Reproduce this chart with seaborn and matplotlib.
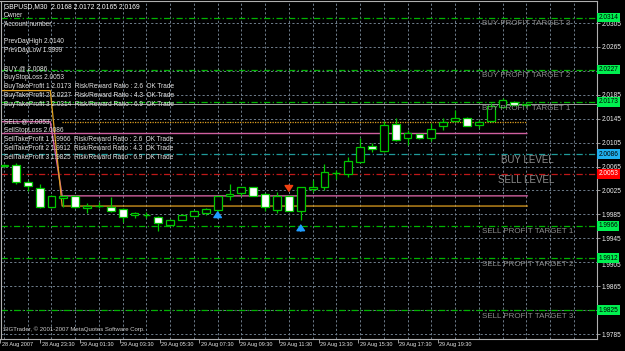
import numpy as np
import pandas as pd
import matplotlib
matplotlib.use("Agg")
import matplotlib.pyplot as plt
from matplotlib.patches import Rectangle
from matplotlib.transforms import blended_transform_factory, ScaledTranslation
import seaborn as sns

# ---------------- data ----------------
opens  = [2.0066, 2.0068, 2.0039, 2.0029, 1.9997, 2.0012, 2.0016, 1.9996, 1.9999, 1.9997,
          1.9994, 1.9984, 1.9984, 1.9981, 1.9968, 1.9976, 1.9983, 1.9988, 1.9993, 2.0015,
          2.0020, 2.0030, 2.0019, 1.9993, 2.0016, 1.9991, 2.0027, 2.0030, 2.0055, 2.0052,
          2.0073, 2.0100, 2.0091, 2.0136, 2.0112, 2.0119, 2.0112, 2.0132, 2.0142, 2.0147,
          2.0134, 2.0142, 2.0165, 2.0173, 2.0168]
highs  = [2.0070, 2.0071, 2.0043, 2.0036, 2.0017, 2.0018, 2.0017, 2.0004, 2.0006, 2.0014,
          1.9996, 1.9989, 1.9989, 1.9982, 1.9977, 1.9985, 1.9992, 1.9996, 2.0016, 2.0036,
          2.0031, 2.0031, 2.0020, 2.0023, 2.0017, 2.0031, 2.0043, 2.0069, 2.0060, 2.0081,
          2.0112, 2.0104, 2.0142, 2.0147, 2.0126, 2.0120, 2.0137, 2.0146, 2.0160, 2.0148,
          2.0143, 2.0171, 2.0180, 2.0174, 2.0172]
lows   = [2.0064, 2.0036, 2.0024, 1.9996, 1.9996, 1.9998, 1.9996, 1.9987, 1.9996, 1.9989,
          1.9972, 1.9979, 1.9979, 1.9957, 1.9966, 1.9975, 1.9982, 1.9984, 1.9991, 2.0009,
          2.0015, 2.0015, 1.9990, 1.9987, 1.9990, 1.9976, 2.0023, 2.0025, 2.0045, 2.0048,
          2.0071, 2.0089, 2.0090, 2.0107, 2.0101, 2.0111, 2.0107, 2.0126, 2.0140, 2.0132,
          2.0129, 2.0140, 2.0163, 2.0167, 2.0165]
closes = [2.0068, 2.0039, 2.0032, 1.9997, 2.0016, 2.0015, 1.9997, 1.9999, 1.9999, 1.9991,
          1.9981, 1.9987, 1.9984, 1.9971, 1.9976, 1.9984, 1.9991, 1.9994, 2.0015, 2.0019,
          2.0030, 2.0016, 1.9998, 2.0016, 1.9991, 2.0030, 2.0030, 2.0056, 2.0055, 2.0075,
          2.0098, 2.0094, 2.0134, 2.0109, 2.0121, 2.0112, 2.0128, 2.0139, 2.0147, 2.0133,
          2.0139, 2.0166, 2.0176, 2.0168, 2.0169]

levels      = [2.0314, 2.0227, 2.0173, 2.0086, 2.0053, 1.9966, 1.9912, 1.9825]
level_names = ["BUY PROFIT TARGET 3", "BUY PROFIT TARGET 2", "BUY PROFIT TARGET 1",
               "BUY LEVEL", "SELL LEVEL",
               "SELL PROFIT TARGET 1", "SELL PROFIT TARGET 2", "SELL PROFIT TARGET 3"]
level_kind  = ["target", "target", "target", "buy", "sell", "target", "target", "target"]

bid_price = 2.0169

up_arrow_bars    = [18, 25]
up_arrow_prices  = [1.9985, 1.9963]
down_arrow_bars  = [24]
down_arrow_prices = [2.0028]

# indicator polylines (bar index, price)
pink_x   = [-0.3, 3.9, 4.9, 44.1]
pink_y   = [2.0140, 2.0140, 2.0016, 2.0016]
orange_x = [-0.3, 3.9, 4.9, 44.1]
orange_y = [2.0192, 2.0192, 1.9999, 1.9999]
pink_flat_price = 2.0121
orange_flat_price = 2.0140

title_text = "GBPUSD,M30  2.0168 2.0172 2.0165 2.0169"
info_lines = ["Owner", "Account number :", "", "PrevDayHigh 2.0140", "PrevDayLow 1.9999", "",
              "BUY @ 2.0086", "BuyStopLoss 2.0053",
              "BuyTakeProfit 1 2.0173  Risk/Reward Ratio : 2.6  OK Trade",
              "BuyTakeProfit 2 2.0227  Risk/Reward Ratio : 4.3  OK Trade",
              "BuyTakeProfit 3 2.0314  Risk/Reward Ratio : 6.9  OK Trade", "",
              "SELL @ 2.0053", "SellStopLoss 2.0086",
              "SellTakeProfit 1 1.9966  Risk/Reward Ratio : 2.6  OK Trade",
              "SellTakeProfit 2 1.9912  Risk/Reward Ratio : 4.3  OK Trade",
              "SellTakeProfit 3 1.9825  Risk/Reward Ratio : 6.9  OK Trade"]

time_labels = ["28 Aug 2007", "28 Aug 23:30", "29 Aug 01:30", "29 Aug 03:30", "29 Aug 05:30",
               "29 Aug 07:30", "29 Aug 09:30", "29 Aug 11:30", "29 Aug 13:30", "29 Aug 15:30",
               "29 Aug 17:30", "29 Aug 19:30"]
price_ticks = [1.9785, 1.9825, 1.9865, 1.9905, 1.9945, 1.9985, 2.0025, 2.0065, 2.0105,
               2.0145, 2.0185, 2.0225, 2.0265, 2.0305]
hidden_price_labels = [1.9825, 2.0225]   # covered by level boxes in the original
copyright_text = "SIGTrader, \u00a9 2001-2007 MetaQuotes Software Corp."

df = pd.DataFrame({"bar": np.arange(len(opens)), "open": opens, "high": highs,
                   "low": lows, "close": closes})

# ---------------- style ----------------
sns.set_theme(style="dark", rc={"axes.facecolor": "black", "figure.facecolor": "black",
                                "savefig.facecolor": "black"})
plt.rcParams["font.family"] = ["Liberation Sans", "DejaVu Sans"]

W, H = 625, 351
X0, DX = 4.0, 11.87        # pixel of bar 0 and pixel step per bar (layout)
fig = plt.figure(figsize=(W / 100, H / 100), dpi=100)
ax = fig.add_axes([0.5 / W, 12 / H, 596.5 / W, 338 / H])
ax.set_facecolor("black")
ax.set_xlim((0.5 - X0) / DX, (597 - X0) / DX)
ax.set_ylim(1.97767, 2.03418)

GRID = "#6f7d8c"
GREEN = "#00c800"

# grid
ax.grid(False)
for gx in np.arange(0, 52, 2):
    ax.axvline(gx, color=GRID, lw=0.7, ls=(0, (2.2, 2.2)), zorder=1)
for py in price_ticks:
    ax.axhline(py, color=GRID, lw=0.7, ls=(0, (2.2, 2.2)), zorder=1)

# level lines
kind_color = {"target": "#00b400", "buy": "#1f9a9a", "sell": "#c01818"}
kind_box = {"target": "#00f050", "buy": "#20b0f0", "sell": "#ff0000"}
kind_txt = {"target": "black", "buy": "black", "sell": "white"}
for lv, kd in zip(levels, level_kind):
    ax.axhline(lv, color=kind_color[kd], lw=0.9, ls=(0, (5, 2, 1, 2)), zorder=2)

# bid line
ax.axhline(bid_price, color="#a0a0a0", lw=0.7, zorder=2)

# indicator lines
ax.plot(pink_x, pink_y, color="#d060a0", lw=1.0, zorder=2)
ax.plot(orange_x, orange_y, color="#e0a020", lw=0.9, zorder=2)
ax.hlines(pink_flat_price, pink_x[0], pink_x[-1], color="#d060a0", lw=1.0, zorder=2)
ax.hlines(orange_flat_price, orange_x[2], orange_x[-1], color="#e0a020", lw=0.9,
          ls=(0, (1, 1)), zorder=2)

# candles
bw = 0.66
for r in df.itertuples():
    ax.vlines(r.bar, r.low, r.high, color=GREEN, lw=0.9, zorder=3)
    if abs(r.close - r.open) < 0.00005:
        ax.hlines(r.open, r.bar - bw / 2, r.bar + bw / 2, color=GREEN, lw=1.0, zorder=4)
    else:
        face = "white" if r.close < r.open else "black"
        ax.add_patch(Rectangle((r.bar - bw / 2, min(r.open, r.close)), bw,
                               abs(r.close - r.open), facecolor=face, edgecolor=GREEN,
                               lw=0.9, zorder=4))

# arrows
astyle = "-|>,head_width=0.22,head_length=0.32"
for bx, by in zip(up_arrow_bars, up_arrow_prices):
    ax.annotate("", xy=(bx, by + 0.0006), xytext=(bx, by - 0.0006),
                arrowprops=dict(arrowstyle=astyle, color="#1e9cff", lw=1.1,
                                shrinkA=0, shrinkB=0), zorder=5)
for bx, by in zip(down_arrow_bars, down_arrow_prices):
    ax.annotate("", xy=(bx, by - 0.0006), xytext=(bx, by + 0.0006),
                arrowprops=dict(arrowstyle=astyle, color="#f04010", lw=1.1,
                                shrinkA=0, shrinkB=0), zorder=5)

# level names
name_x = {"target": (482 - X0) / DX, "buy": (501 - X0) / DX, "sell": (498 - X0) / DX}
for lv, nm, kd in zip(levels, level_names, level_kind):
    fs = 5.8 if kd == "target" else 7.0
    ax.annotate(nm, xy=(name_x[kd], lv), xytext=(0, -4.4), textcoords="offset points",
                ha="left", va="center", fontsize=fs, color="#8c8c8c", zorder=6)

# spines
for s in ["top", "left", "bottom", "right"]:
    ax.spines[s].set_color("#b0b0b0")
    ax.spines[s].set_linewidth(0.8)
    ax.spines[s].set_visible(True)

# price axis on right
ax.yaxis.tick_right()
ax.set_yticks(price_ticks)
ax.set_yticklabels(["" if p in hidden_price_labels else f"{p:.4f}" for p in price_ticks])
ax.tick_params(axis="y", which="major", length=2, width=0.6, color="#b0b0b0",
               labelsize=4.7, labelcolor="#f0f0f0", pad=1.5, right=True, left=False)
# the 1.9905 label sits just below the 1.9912 box in the original
for p, t in zip(price_ticks, ax.get_yticklabels()):
    if p == 1.9905:
        t.set_transform(t.get_transform() + ScaledTranslation(0, -2.5 / 100,
                                                              fig.dpi_scale_trans))

btr = blended_transform_factory(ax.transAxes, ax.transData)
for lv, kd in zip(levels, level_kind):
    ax.text(1.0025, lv, f"{lv:.4f}", transform=btr, ha="left", va="center", fontsize=4.7,
            color=kind_txt[kd], clip_on=False, zorder=10,
            bbox=dict(boxstyle="square,pad=0.2", fc=kind_box[kd], ec="none"))

# time axis
tick_px = 0.5 + 39.75 * np.arange(len(time_labels))
tick_pos = (tick_px - X0) / DX
ax.set_xticks(tick_pos)
ax.set_xticklabels([""] * len(time_labels))
ax.tick_params(axis="x", which="major", length=3, width=0.6, color="#b0b0b0",
               bottom=True, direction="out")
bx_tr = blended_transform_factory(ax.transData, ax.transAxes)
for pos, lbl in zip(tick_pos, time_labels):
    ax.annotate(lbl, xy=(pos, 0), xycoords=bx_tr, xytext=(1.0, -4.3),
                textcoords="offset points", ha="left", va="center", fontsize=4.0,
                color="#e6e6e6", annotation_clip=False)
ax.set_xlabel("")
ax.set_ylabel("")

# info text block
fig.text(4 / W, 1 - 6.3 / H, title_text, ha="left", va="center", fontsize=4.9, color="white")
for k, line in enumerate(info_lines, start=1):
    if line:
        fig.text(4 / W, 1 - (6.3 + 8.9 * k) / H, line, ha="left", va="center",
                 fontsize=4.7, color="#e4e4e4")

fig.text(3 / W, 1 - 329 / H, copyright_text, ha="left", va="center", fontsize=4.3,
         color="#d0d0d0")

fig.savefig("out.png", dpi=100, facecolor="black")
